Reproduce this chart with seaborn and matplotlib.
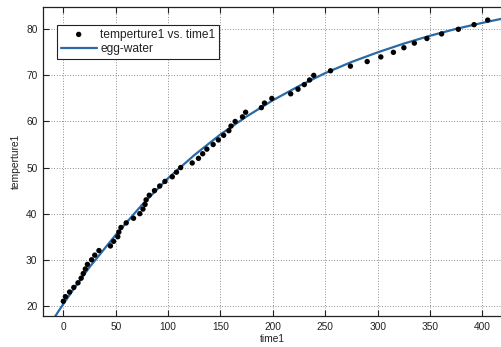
import matplotlib
matplotlib.use("Agg")
import matplotlib.pyplot as plt
import pandas as pd
import seaborn as sns

# measured points (time1, temperture1)
time1 = [0, 2, 6, 10, 14, 17, 19, 21, 23, 27, 30, 34, 45, 48, 52, 53, 55, 60,
         67, 73, 76, 78, 79, 82, 87, 92, 97, 104, 108, 112, 123, 129, 133, 137,
         143, 148, 153, 158, 160, 164, 171, 174, 189, 192, 199, 217, 224, 230,
         235, 239, 255, 274, 290, 303, 315, 325, 335, 347, 361, 377, 392, 405]
temperture1 = [21, 22, 23, 24, 25, 26, 27, 28, 29, 30, 31, 32, 33, 34, 35, 36,
               37, 38, 39, 40, 41, 42, 43, 44, 45, 46, 47, 48, 49, 50, 51, 52,
               53, 54, 55, 56, 57, 58, 59, 60, 61, 62, 63, 64, 65, 66, 67, 68,
               69, 70, 71, 72, 73, 74, 75, 76, 77, 78, 79, 80, 81, 82]

# fitted curve "egg-water"
fit_time = [-12, -5, 0, 10, 25, 50, 75, 100, 125, 150, 175, 200, 225, 250,
            275, 300, 325, 350, 375, 400, 425]
fit_temp = [16.2, 18.7, 20.4, 23.7, 28.4, 35.4, 41.9, 47.7, 52.7, 57.2, 61.1,
            64.6, 67.7, 70.5, 72.9, 75.0, 76.9, 78.6, 80.1, 81.4, 82.6]

pts = pd.DataFrame({"time1": time1, "temperture1": temperture1})
fit = pd.DataFrame({"time1": fit_time, "temperture1": fit_temp})

sns.set_style("white")
plt.rcParams["font.family"] = ["Liberation Sans", "DejaVu Sans"]

fig = plt.figure(figsize=(5.01, 3.47), dpi=100)
ax = fig.add_axes([0.0858, 0.0893, 0.9142, 0.8914])

sns.lineplot(data=fit, x="time1", y="temperture1", ax=ax, color="#2a6aa6",
             linewidth=1.6, label="egg-water", sort=False, zorder=2)
sns.scatterplot(data=pts, x="time1", y="temperture1", ax=ax, color="black",
                s=15, edgecolor="none", label="temperture1 vs. time1", zorder=3)

ax.set_xlim(-19.4, 417.7)
ax.set_ylim(17.8, 84.9)
ax.set_xticks([0, 50, 100, 150, 200, 250, 300, 350, 400])
ax.set_yticks([20, 30, 40, 50, 60, 70, 80])
ax.grid(True, color="#6a6a6a", linestyle=(0, (1, 2.2)), linewidth=0.6)

for side in ["left", "bottom", "top"]:
    ax.spines[side].set_visible(True)
    ax.spines[side].set_color("#222222")
    ax.spines[side].set_linewidth(0.9)
ax.spines["right"].set_visible(False)

ax.tick_params(direction="in", length=4, width=0.8, color="#222222",
               labelsize=7.3, labelcolor="#222222", top=True, bottom=True,
               left=True, pad=4)
ax.set_xlabel("time1", fontsize=7.4, color="#222222", labelpad=2)
ax.set_ylabel("temperture1", fontsize=7.4, color="#222222", labelpad=4)

handles, labels = ax.get_legend_handles_labels()
leg = ax.legend(handles[::-1], labels[::-1], loc="upper left",
                bbox_to_anchor=(0.031, 0.941), borderaxespad=0, fontsize=8.6,
                frameon=True, fancybox=False, framealpha=1, edgecolor="#222222",
                handlelength=3.0, handletextpad=0.3, borderpad=0.3,
                labelspacing=0.2)
leg.get_frame().set_linewidth(0.8)
for t in leg.get_texts():
    t.set_color("#222222")

fig.savefig("out.png", dpi=100)
